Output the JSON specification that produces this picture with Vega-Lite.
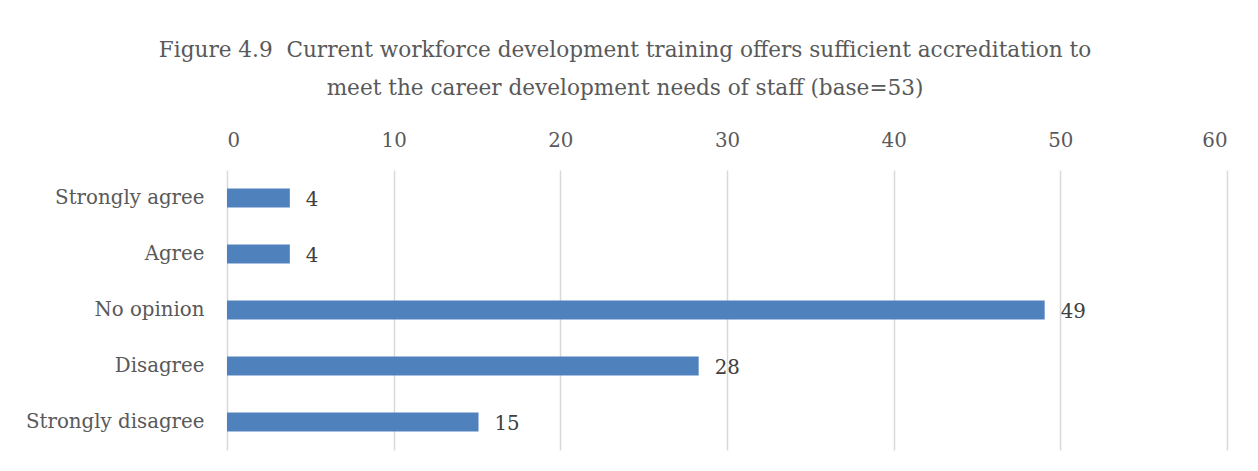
{
  "$schema": "https://vega.github.io/schema/vega-lite/v6.json",
  "autosize": {"type": "none"},
  "width": 1000,
  "height": 280,
  "padding": {"left": 227, "top": 170, "right": 31, "bottom": 21},
  "background": "white",
  "title": {
    "text": ["Figure 4.9 \u00a0Current workforce development training offers sufficient accreditation to", "meet the career development needs of staff (base=53)"],
    "font": "DejaVu Serif",
    "fontSize": 21.6,
    "fontWeight": "normal",
    "color": "#595959",
    "anchor": "middle",
    "dx": -102,
    "lineHeight": 38,
    "offset": 30
  },
  "data": {
    "values": [
      {"response": "Strongly agree", "percent": 3.77, "label": "4"},
      {"response": "Agree", "percent": 3.77, "label": "4"},
      {"response": "No opinion", "percent": 49.06, "label": "49"},
      {"response": "Disagree", "percent": 28.3, "label": "28"},
      {"response": "Strongly disagree", "percent": 15.09, "label": "15"}
    ]
  },
  "encoding": {
    "y": {
      "field": "response",
      "type": "nominal",
      "sort": null,
      "title": null,
      "axis": {
        "ticks": false,
        "domain": false,
        "grid": false,
        "labelFont": "DejaVu Serif",
        "labelFontSize": 19.8,
        "labelColor": "#595959",
        "labelPadding": 23
      }
    },
    "x": {
      "field": "percent",
      "type": "quantitative",
      "scale": {"domain": [0, 60], "nice": false},
      "title": null,
      "axis": {
        "orient": "top",
        "values": [0, 10, 20, 30, 40, 50, 60],
        "ticks": false,
        "domain": false,
        "grid": true,
        "gridColor": "#d9d9d9",
        "gridWidth": 1.5,
        "labelFont": "DejaVu Serif",
        "labelFontSize": 19.8,
        "labelColor": "#595959",
        "labelPadding": 20
      }
    }
  },
  "layer": [
    {"mark": {"type": "bar", "color": "#4f81bd", "size": 19}},
    {
      "mark": {"type": "text", "align": "left", "baseline": "middle", "dx": 16, "dy": 2, "font": "DejaVu Serif", "fontSize": 19.8, "color": "#404040"},
      "encoding": {"text": {"field": "label"}}
    }
  ],
  "config": {"view": {"stroke": null}}
}
